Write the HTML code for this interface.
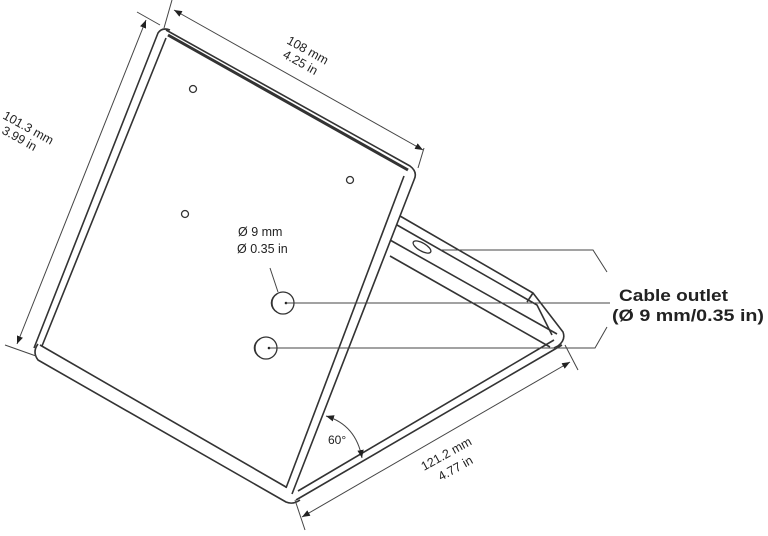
<!DOCTYPE html>
<html><head><style>
html,body{margin:0;padding:0;background:#fff;}
svg{display:block;}
text{font-family:"Liberation Sans",sans-serif;fill:#222;}
</style></head><body>
<svg width="768" height="536" viewBox="0 0 768 536" xmlns="http://www.w3.org/2000/svg">
<defs>
<marker id="a" viewBox="0 0 10 10" refX="10" refY="5" markerWidth="8" markerHeight="8" orient="auto-start-reverse"><path d="M0,1 L10,5 L0,9z" fill="#222"/></marker>
</defs>
<g fill="none" stroke="#333" stroke-width="1.6" stroke-linejoin="round">
<path d="M34,348 L158,33 Q162,27 170,30"/>
<path d="M42,346 L166,38"/>
<path d="M166,30 L410,166 Q418,172 414,180 L292,494"/>
<path d="M168,35 L408,170" stroke-width="3"/>
<path d="M404,176 L286,488"/>
<path d="M38,344 Q32,352 38,360 L286,502 Q293,505 300,500"/>
<path d="M40,345 L286,487"/>
<path d="M296,500 L562,345"/>
<path d="M298,491 L554,340"/>
<path d="M400,216 L533,293 L563,332 Q566,340 558,346 L554,348"/>
<path d="M397,225 L537,305 L552,335"/>
<path d="M390,240 L557,334"/>
<path d="M390,256 L550,347"/>
<path d="M533,293 L527,302"/>
<ellipse cx="422" cy="247" rx="10" ry="4" transform="rotate(30 422 247)" stroke-width="1.3"/>
</g>
<g fill="none" stroke="#333" stroke-width="1.3">
<circle cx="193" cy="89" r="3.5"/><circle cx="350" cy="180" r="3.5"/><circle cx="185" cy="214" r="3.5"/>
<circle cx="283" cy="303" r="11"/><path d="M277,294 A10,10 0 0 0 277,312"/>
<circle cx="266" cy="348" r="11"/><path d="M260,339 A10,10 0 0 0 260,357"/>
</g>
<circle cx="286" cy="303" r="1.3" fill="#222"/><circle cx="269" cy="348" r="1.3" fill="#222"/>
<g fill="none" stroke="#444" stroke-width="1">
<path d="M286,303 L610,303"/>
<path d="M269,348 L595,348 L607,327"/>
<path d="M440,250 L593,250 L607,272"/>
<path d="M270,268 L278,292"/>
<path d="M172,0 L164,28"/><path d="M424,148 L418,168"/>
<path d="M174,10 L423,150" marker-start="url(#a)" marker-end="url(#a)"/>
<path d="M137,12 L160,25"/><path d="M5,345 L36,356"/>
<path d="M146,20 L17,344" marker-start="url(#a)" marker-end="url(#a)"/>
<path d="M295,500 L305,530"/><path d="M565,345 L578,370"/>
<path d="M302,517 L570,362" marker-start="url(#a)" marker-end="url(#a)"/>
<path d="M326,416 Q356,425 362,458" marker-start="url(#a)" marker-end="url(#a)"/>
</g>
<g font-size="12.5">
<text transform="translate(286,43) rotate(29)">108 mm</text>
<text transform="translate(282,57) rotate(29)">4.25 in</text>
<text transform="translate(2,118) rotate(29)">101.3 mm</text>
<text transform="translate(1,133) rotate(29)">3.99 in</text>
<text transform="translate(424,471) rotate(-29)">121.2 mm</text>
<text transform="translate(441,481) rotate(-29)">4.77 in</text>
<text x="328" y="444" font-size="12">60°</text>
<text x="238" y="236" font-size="12.5">Ø 9 mm</text>
<text x="237" y="253" font-size="12.5">Ø 0.35 in</text>
<text x="619" y="301" font-size="16.5" font-weight="bold" textLength="109" lengthAdjust="spacingAndGlyphs">Cable outlet</text>
<text x="612" y="321" font-size="16.5" font-weight="bold" textLength="152" lengthAdjust="spacingAndGlyphs">(Ø 9 mm/0.35 in)</text>
</g>
</svg>
</body></html>
